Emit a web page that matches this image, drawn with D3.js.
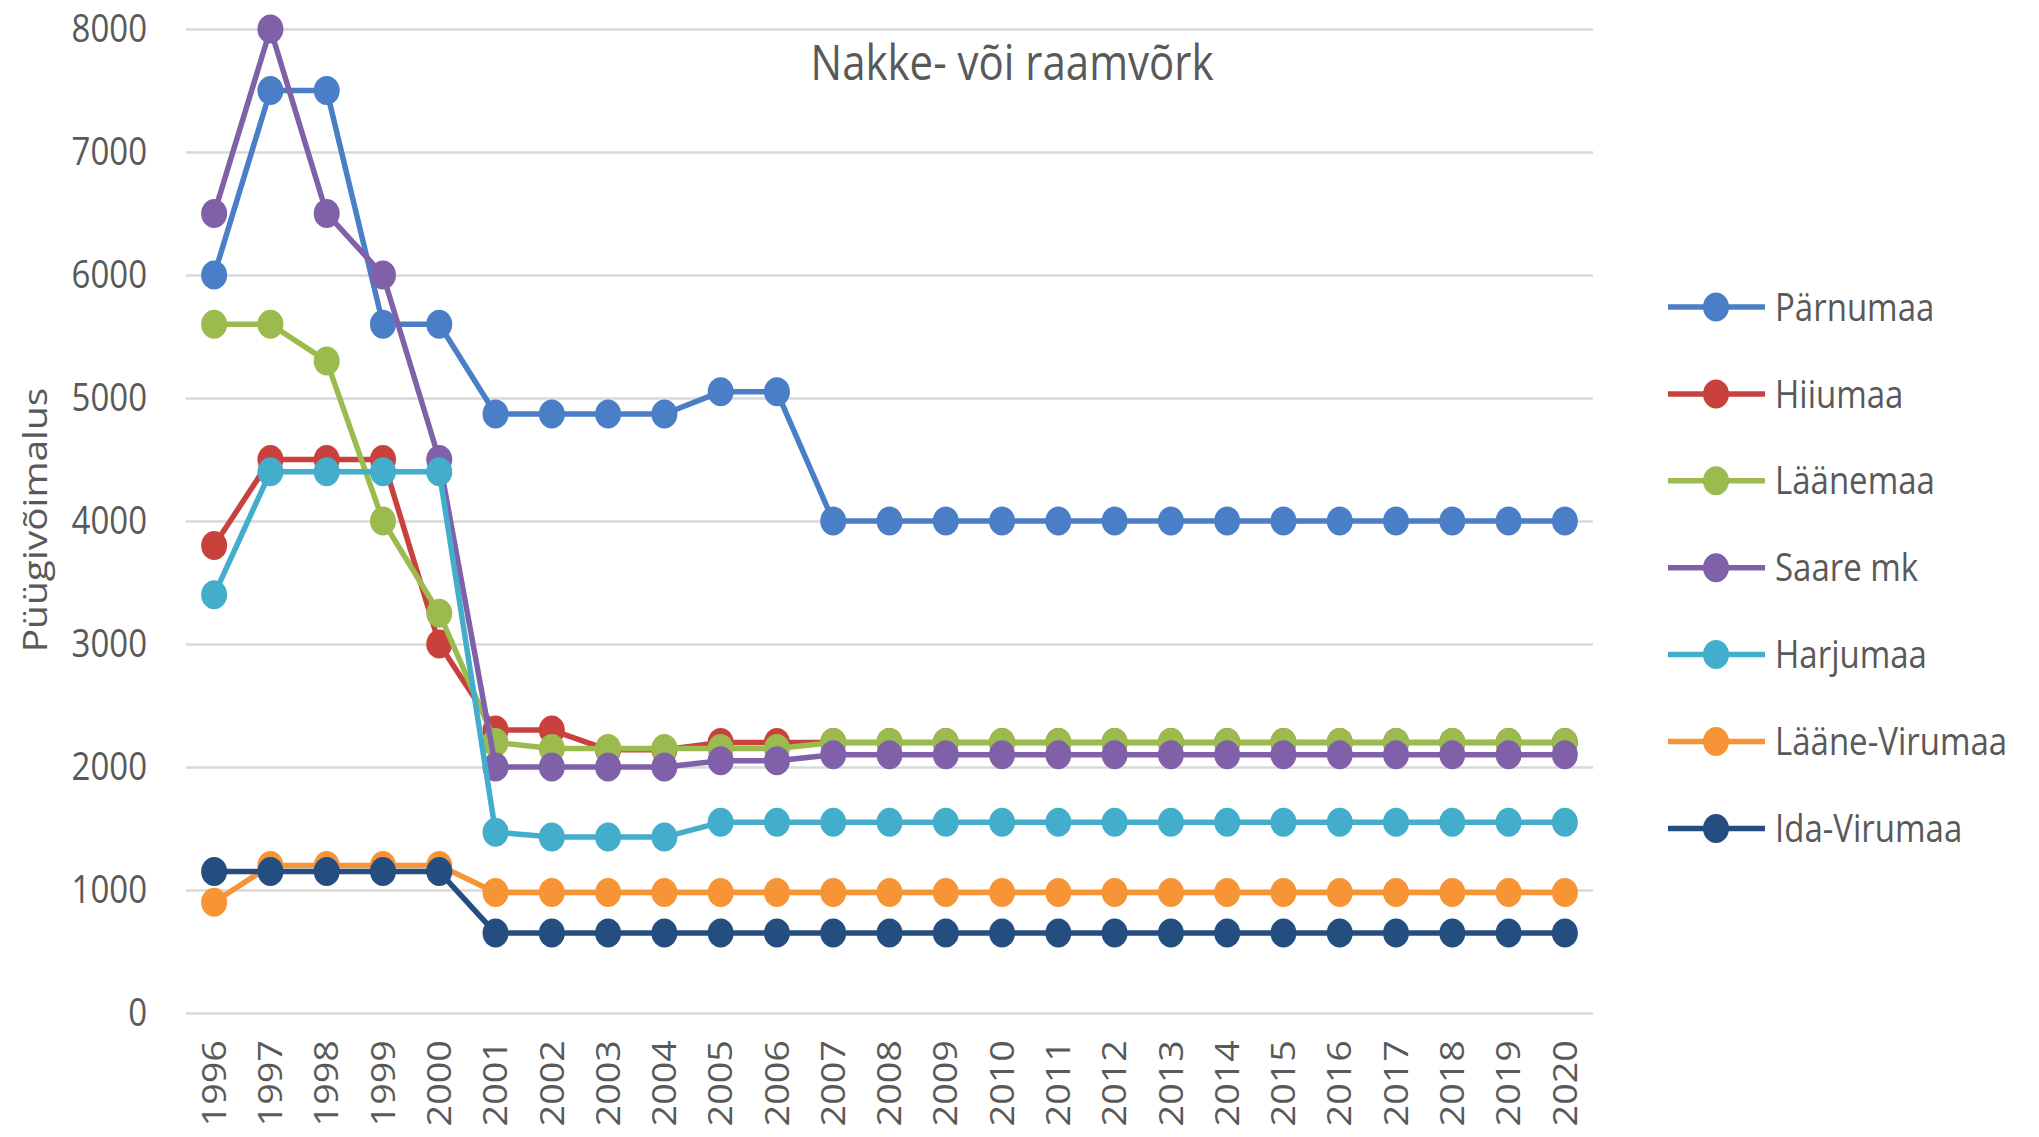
<!DOCTYPE html>
<html>
<head>
<meta charset="utf-8">
<script src="https://cdn.jsdelivr.net/npm/d3@7"></script>
<style>
  html, body { margin: 0; padding: 0; background: #ffffff; }
  svg { display: block; }
  text { font-family: "Open Sans", "Noto Sans", sans-serif; fill: #595959; }
</style>
</head>
<body>
<svg id="chart" width="2039" height="1137"></svg>
<script>
// ---- data ----
const years = ["1996","1997","1998","1999","2000","2001","2002","2003","2004","2005","2006","2007","2008","2009","2010","2011","2012","2013","2014","2015","2016","2017","2018","2019","2020"];
const yTicks = [0, 1000, 2000, 3000, 4000, 5000, 6000, 7000, 8000];
const seriesNames = ["Pärnumaa", "Hiiumaa", "Läänemaa", "Saare mk", "Harjumaa", "Lääne-Virumaa", "Ida-Virumaa"];
const seriesColors = ["#4A7EC6", "#C9413D", "#9BBB4F", "#8060A8", "#43AECB", "#F79436", "#254E80"];

const parnumaa     = [6000, 7500, 7500, 5600, 5600, 4870, 4870, 4870, 4870, 5050, 5050, 4000, 4000, 4000, 4000, 4000, 4000, 4000, 4000, 4000, 4000, 4000, 4000, 4000, 4000];
const hiiumaa      = [3800, 4500, 4500, 4500, 3000, 2300, 2300, 2140, 2140, 2200, 2200, 2200, 2200, 2200, 2200, 2200, 2200, 2200, 2200, 2200, 2200, 2200, 2200, 2200, 2200];
const laanemaa     = [5600, 5600, 5300, 4000, 3250, 2200, 2150, 2150, 2150, 2150, 2150, 2200, 2200, 2200, 2200, 2200, 2200, 2200, 2200, 2200, 2200, 2200, 2200, 2200, 2200];
const saareMk      = [6500, 8000, 6500, 6000, 4500, 2000, 2000, 2000, 2000, 2050, 2050, 2100, 2100, 2100, 2100, 2100, 2100, 2100, 2100, 2100, 2100, 2100, 2100, 2100, 2100];
const harjumaa     = [3400, 4400, 4400, 4400, 4400, 1470, 1430, 1430, 1430, 1550, 1550, 1550, 1550, 1550, 1550, 1550, 1550, 1550, 1550, 1550, 1550, 1550, 1550, 1550, 1550];
const laaneViru    = [900, 1200, 1200, 1200, 1200, 980, 980, 980, 980, 980, 980, 980, 980, 980, 980, 980, 980, 980, 980, 980, 980, 980, 980, 980, 980];
const idaViru      = [1150, 1150, 1150, 1150, 1150, 650, 650, 650, 650, 650, 650, 650, 650, 650, 650, 650, 650, 650, 650, 650, 650, 650, 650, 650, 650];
const seriesValues = [parnumaa, hiiumaa, laanemaa, saareMk, harjumaa, laaneViru, idaViru];

const chartTitle = "Nakke- või raamvõrk";
const yTitle = "Püügivõimalus";

// ---- layout ----
const plot = { left: 186, right: 1593, top: 29, bottom: 1013 };
const stretch = 1.18;   // the reference image is vertically stretched
const svg = d3.select("#chart");

const x = d3.scalePoint().domain(years).range([plot.left, plot.right]).padding(0.5);
const y = d3.scaleLinear().domain([0, 8000]).range([plot.bottom, plot.top]);

// gridlines
const grid = svg.append("g")
  .attr("transform", `translate(${plot.left},0)`)
  .call(d3.axisLeft(y).tickValues(yTicks).tickSize(-(plot.right - plot.left)).tickFormat(""));
grid.select(".domain").remove();
grid.selectAll("line").attr("stroke", "#D9D9D9").attr("stroke-width", 2.5);

// y axis labels
const yAxis = svg.append("g")
  .attr("transform", `translate(${plot.left},0)`)
  .call(d3.axisLeft(y).tickValues(yTicks).tickSize(0).tickPadding(39).tickFormat(d3.format("d")));
yAxis.select(".domain").remove();
yAxis.selectAll("text")
  .style("font-size", "33px")
  .style("font-family", "'Open Sans', sans-serif")
  .attr("fill", "#5f5f5f")
  .attr("transform", `scale(1,${stretch})`);

// x axis labels
const xAxis = svg.append("g")
  .attr("transform", `translate(0,${plot.bottom})`)
  .call(d3.axisBottom(x).tickSize(0));
xAxis.select(".domain").remove();
xAxis.selectAll("text")
  .style("font-size", "32px")
  .style("font-family", "'Open Sans', sans-serif")
  .attr("fill", "#5f5f5f")
  .attr("text-anchor", "end")
  .attr("x", -23)
  .attr("y", 0)
  .attr("dy", "0.35em")
  .attr("transform", `scale(1,${stretch}) rotate(-90)`);

// series
const line = d3.line().x((d, i) => x(years[i])).y(d => y(d));
seriesValues.forEach((vals, si) => {
  const g = svg.append("g");
  g.append("path")
    .datum(vals)
    .attr("d", line)
    .attr("fill", "none")
    .attr("stroke", seriesColors[si])
    .attr("stroke-width", 5.5)
    .attr("stroke-linejoin", "round");
  g.selectAll("ellipse")
    .data(vals)
    .join("ellipse")
    .attr("cx", (d, i) => x(years[i]))
    .attr("cy", d => y(d))
    .attr("rx", 13)
    .attr("ry", 14.5)
    .attr("fill", seriesColors[si]);
});

// title
svg.append("text")
  .attr("transform", `translate(1012,80) scale(1,${stretch})`)
  .attr("text-anchor", "middle")
  .style("font-size", "42px")
  .text(chartTitle);

// y title
svg.append("text")
  .attr("transform", `translate(35,520) scale(1,${stretch}) rotate(-90)`)
  .attr("text-anchor", "middle")
  .attr("dy", "0.35em")
  .style("font-size", "33px")
  .text(yTitle);

// legend
const legend = svg.append("g");
seriesNames.forEach((name, i) => {
  const ly = 307 + i * 86.9;
  legend.append("line")
    .attr("x1", 1668).attr("x2", 1765)
    .attr("y1", ly).attr("y2", ly)
    .attr("stroke", seriesColors[i]).attr("stroke-width", 5.5);
  legend.append("ellipse")
    .attr("cx", 1716).attr("cy", ly).attr("rx", 13).attr("ry", 14.5)
    .attr("fill", seriesColors[i]);
  legend.append("text")
    .attr("transform", `translate(1775,${ly}) scale(1,${stretch})`)
    .attr("dy", "0.35em")
    .style("font-size", "33px")
    .text(name);
});
</script>
</body>
</html>
